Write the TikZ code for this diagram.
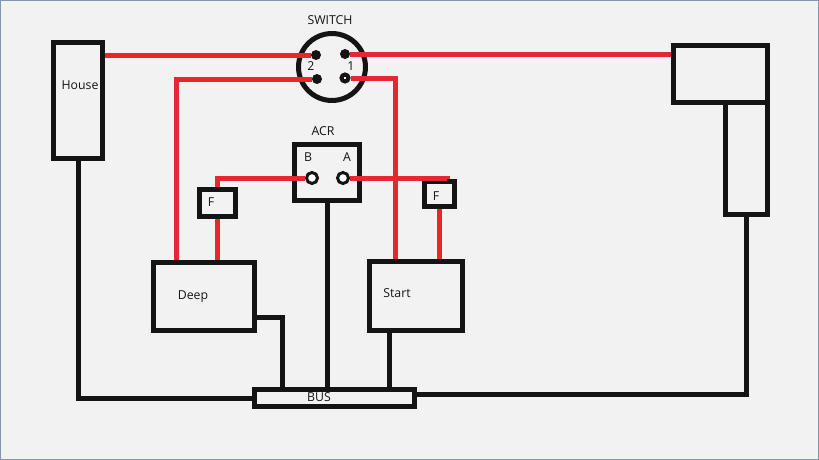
\documentclass[tikz,border=0pt]{standalone}
\usepackage{fontspec}
\newfontfamily\lblfont{Open Sans}
\usetikzlibrary{calc}
\definecolor{bg}{RGB}{242,242,242}
\definecolor{ink}{RGB}{20,20,20}
\definecolor{hot}{RGB}{232,38,50}
\definecolor{frame}{RGB}{130,150,180}
\begin{document}
\begin{tikzpicture}[x=0.02cm, y=-0.02cm,
    box/.style={draw=ink, line width=0.1cm, rectangle, inner sep=0pt},
    lbl/.style={font=\lblfont\fontsize{7}{8}\selectfont, text=ink, inner sep=0pt},
    term/.style={circle, fill=ink, inner sep=0pt, minimum size=0.2cm},
    ring/.style={circle, draw=ink, fill=white, line width=0.06cm, inner sep=0pt, minimum size=0.22cm},
    redw/.style={draw=hot, line width=0.1cm},
    blkw/.style={draw=ink, line width=0.1cm}]
    \useasboundingbox (0,0) rectangle (819,460);
    \fill[bg] (0,0) rectangle (819,460);
    \draw[frame, line width=0.02cm] (0.5,0.5) rectangle (818.5,459.5);

    \node[box, minimum width=0.98cm, minimum height=2.32cm] (house) at (78,100.5) {};
    \node[box, minimum width=1.88cm, minimum height=1.14cm] (rtop) at (720.5,74) {};
    \node[box, minimum width=0.84cm, minimum height=2.24cm] (rlow) at (746.5,158.5) {};
    \node[box, minimum width=1.3cm, minimum height=1.12cm] (acr) at (327,172.5) {};
    \node[box, minimum width=0.72cm, minimum height=0.54cm] (fl) at (217.5,203) {};
    \node[box, minimum width=0.6cm, minimum height=0.5cm] (fr) at (439.5,194) {};
    \node[box, minimum width=2.02cm, minimum height=1.36cm] (deep) at (204,296.5) {};
    \node[box, minimum width=1.86cm, minimum height=1.38cm] (start) at (416,296) {};
    \node[box, minimum width=3.2cm, minimum height=0.34cm] (bus) at (334.5,398) {};
    \node[draw=ink, line width=0.1cm, circle, inner sep=0pt, minimum size=1.34cm] (sw) at (332,67) {};

    \foreach \name/\where/\txt in {houselbl/{80,85}/House, deeplbl/{193,297}/Deep,
        startlbl/{397,293}/Start, buslbl/{319,397}/BUS, swlbl/{330,20}/SWITCH,
        acrlbl/{323,131}/ACR, fllbl/{211,202}/F, frlbl/{436,196}/F,
        blbl/{308,157}/B, albl/{347,157}/A, twolbl/{311,66}/2, onelbl/{351,66}/1}{
      \node[lbl] (\name) at (\where) {\txt};
    }

    \coordinate (deepA) at (176,260);
    \coordinate (startA) at (395,259);
    \coordinate (frA) at (447,179);
    \coordinate (deepB) at (282,387);
    \coordinate (startB) at (389,333);

    \node[term] (p2a) at (316,55) {};
    \node[term] (p2b) at (317,79) {};
    \node[term] (p1a) at (345,54) {};
    \node[ring, minimum size=0.14cm, line width=0.08cm] (p1b) at (345,78) {};
    \node[ring] (ringB) at (312,178) {};
    \node[ring] (ringA) at (343,178) {};

    \draw[redw] (house.east |- p2a) -- (p2a);
    \draw[redw] (p2b) -| (deepA);
    \draw[redw] (p1a) -- (rtop.west |- p1a);
    \draw[redw] (p1b) -| (startA);
    \draw[redw] (ringB) -| (fl.north);
    \draw[redw] (fl.south) -- (fl.south |- deep.north);
    \draw[redw] (ringA) -| (frA);
    \draw[redw] (fr.south) -- (fr.south |- start.north);

    \draw[blkw] (house.south) |- (bus.west);
    \draw[blkw] (acr.south) -- (acr.south |- bus.north);
    \draw[blkw] (deep.east |- 0,317) -| (deepB);
    \draw[blkw] (startB) -- (startB |- bus.north);
    \draw[blkw] (rlow.south) |- (bus.east |- 0,394);
\end{tikzpicture}
\end{document}
